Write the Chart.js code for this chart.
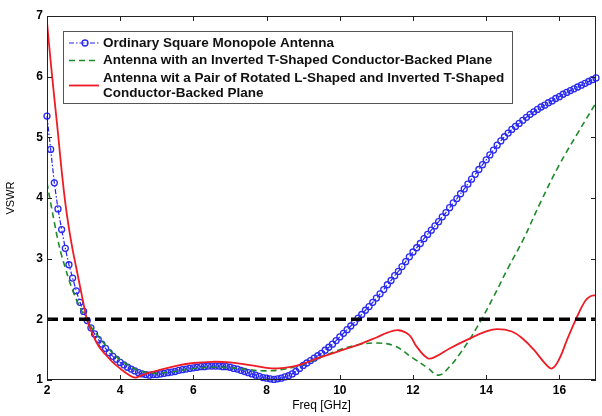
<!DOCTYPE html>
<html>
<head>
<meta charset="utf-8">
<script src="https://cdn.jsdelivr.net/npm/chart.js@4"></script>
<style>
  html, body { margin: 0; padding: 0; background: #fff; }
  #wrap { width: 602px; height: 416px; }
</style>
</head>
<body>
<div id="wrap"><canvas id="vswrChart" width="602" height="416"></canvas></div>
<script>
// Дані: частота (ГГц) та КСХН для трьох антен
const freqOrdinary = [
  2.0, 2.1, 2.2, 2.3, 2.4, 2.5, 2.6, 2.7, 2.8, 2.9,
  3.0, 3.1, 3.2, 3.3, 3.4, 3.5, 3.6, 3.7, 3.8, 3.9,
  4.0, 4.1, 4.2, 4.3, 4.4, 4.5, 4.6, 4.7, 4.8, 4.9,
  5.0, 5.1, 5.2, 5.3, 5.4, 5.5, 5.6, 5.7, 5.8, 5.9,
  6.0, 6.1, 6.2, 6.3, 6.4, 6.5, 6.6, 6.7, 6.8, 6.9,
  7.0, 7.1, 7.2, 7.3, 7.4, 7.5, 7.6, 7.7, 7.8, 7.9,
  8.0, 8.1, 8.2, 8.3, 8.4, 8.5, 8.6, 8.7, 8.8, 8.9,
  9.0, 9.1, 9.2, 9.3, 9.4, 9.5, 9.6, 9.7, 9.8, 9.9,
  10.0, 10.1, 10.2, 10.3, 10.4, 10.5, 10.6, 10.7, 10.8, 10.9,
  11.0, 11.1, 11.2, 11.3, 11.4, 11.5, 11.6, 11.7, 11.8, 11.9,
  12.0, 12.1, 12.2, 12.3, 12.4, 12.5, 12.6, 12.7, 12.8, 12.9,
  13.0, 13.1, 13.2, 13.3, 13.4, 13.5, 13.6, 13.7, 13.8, 13.9,
  14.0, 14.1, 14.2, 14.3, 14.4, 14.5, 14.6, 14.7, 14.8, 14.9,
  15.0, 15.1, 15.2, 15.3, 15.4, 15.5, 15.6, 15.7, 15.8, 15.9,
  16.0, 16.1, 16.2, 16.3, 16.4, 16.5, 16.6, 16.7, 16.8, 16.9,
  17.0
];
const vswrOrdinary = [
  5.35, 4.80, 4.25, 3.82, 3.48, 3.17, 2.90, 2.68, 2.47, 2.28,
  2.13, 1.98, 1.86, 1.76, 1.67, 1.59, 1.52, 1.45, 1.39, 1.34,
  1.29, 1.25, 1.21, 1.18, 1.15, 1.12, 1.10, 1.09, 1.08, 1.09,
  1.09, 1.10, 1.11, 1.12, 1.13, 1.14, 1.16, 1.17, 1.18, 1.19,
  1.20, 1.21, 1.22, 1.22, 1.23, 1.23, 1.23, 1.23, 1.22, 1.22,
  1.21, 1.19, 1.18, 1.16, 1.14, 1.12, 1.10, 1.08, 1.06, 1.04,
  1.03, 1.02, 1.01, 1.02, 1.03, 1.05, 1.07, 1.10, 1.14, 1.19,
  1.24, 1.28, 1.32, 1.36, 1.40, 1.44, 1.49, 1.54, 1.59, 1.65,
  1.71, 1.77, 1.83, 1.89, 1.95, 2.02, 2.08, 2.15, 2.21, 2.28,
  2.35, 2.42, 2.49, 2.57, 2.64, 2.72, 2.79, 2.87, 2.95, 3.03,
  3.11, 3.18, 3.25, 3.33, 3.40, 3.47, 3.54, 3.61, 3.69, 3.76,
  3.84, 3.92, 3.99, 4.07, 4.15, 4.23, 4.31, 4.39, 4.47, 4.55,
  4.63, 4.71, 4.79, 4.87, 4.94, 5.01, 5.07, 5.13, 5.18, 5.23,
  5.28, 5.33, 5.38, 5.42, 5.46, 5.50, 5.53, 5.57, 5.60, 5.64,
  5.67, 5.71, 5.74, 5.77, 5.80, 5.83, 5.86, 5.89, 5.92, 5.95,
  5.98
];

const freqTShaped = [2.0, 2.1, 2.2, 2.3, 2.4, 2.5, 2.6, 2.7, 2.8, 2.9, 3.0, 3.2, 3.4, 3.6, 3.8, 4.0, 4.2, 4.4, 4.6, 4.8, 5.0, 5.5, 6.0, 6.5, 7.0, 7.5, 8.0, 8.5, 9.0, 9.5, 10.0, 10.5, 11.0, 11.5, 12.0, 12.4, 12.7, 13.0, 13.3, 13.6, 13.9, 14.2, 14.6, 15.0, 15.5, 16.0, 16.5, 17.0];
const vswrTShaped = [4.25, 3.92, 3.60, 3.30, 3.05, 2.85, 2.65, 2.48, 2.33, 2.20, 2.08, 1.88, 1.72, 1.57, 1.44, 1.33, 1.25, 1.18, 1.14, 1.12, 1.11, 1.14, 1.19, 1.21, 1.20, 1.17, 1.15, 1.18, 1.26, 1.38, 1.50, 1.58, 1.61, 1.56, 1.36, 1.20, 1.08, 1.22, 1.45, 1.72, 2.03, 2.37, 2.85, 3.30, 3.95, 4.55, 5.07, 5.57];

const freqLTShaped = [2.0, 2.1, 2.2, 2.3, 2.4, 2.5, 2.6, 2.7, 2.8, 2.9, 3.0, 3.1, 3.2, 3.4, 3.6, 3.8, 4.0, 4.2, 4.4, 4.6, 4.8, 5.0, 5.5, 6.0, 6.5, 7.0, 7.5, 8.0, 8.3, 8.7, 9.0, 9.4, 10.0, 10.5, 11.0, 11.3, 11.6, 11.9, 12.1, 12.4, 12.6, 13.0, 13.5, 14.0, 14.3, 14.7, 15.0, 15.3, 15.6, 15.8, 16.0, 16.2, 16.45, 16.7, 16.85, 17.0];
const vswrLTShaped = [6.90, 6.25, 5.65, 5.07, 4.45, 3.92, 3.50, 3.15, 2.85, 2.55, 2.25, 1.98, 1.82, 1.57, 1.42, 1.29, 1.19, 1.10, 1.04, 1.08, 1.12, 1.15, 1.23, 1.28, 1.30, 1.29, 1.25, 1.20, 1.19, 1.22, 1.27, 1.36, 1.48, 1.58, 1.70, 1.78, 1.82, 1.74, 1.55, 1.36, 1.38, 1.52, 1.67, 1.80, 1.84, 1.80, 1.68, 1.50, 1.28, 1.19, 1.35, 1.65, 2.00, 2.30, 2.38, 2.40];

const thresholdFreq = [2, 17];
const thresholdVswr = [2, 2];

const xTicks = [2, 4, 6, 8, 10, 12, 14, 16];
const yTicks = [1, 2, 3, 4, 5, 6, 7];

const seriesLabels = [
  'Ordinary Square Monopole Antenna',
  'Antenna with an Inverted T-Shaped Conductor-Backed Plane',
  'Antenna wit a Pair of Rotated L-Shaped and Inverted T-Shaped\nConductor-Backed Plane'
];

function toPoints(xs, ys) {
  return xs.map((x, i) => ({ x: x, y: ys[i] }));
}

Chart.defaults.font.family = 'Arial, "Liberation Sans", Helvetica, sans-serif';
Chart.defaults.color = '#000';

// Рамка та внутрішні мітки осей (як у MATLAB)
const frameTicks = {
  id: 'frameTicks',
  afterDatasetsDraw(chart) {
    const { ctx, chartArea: a, scales } = chart;
    ctx.save();
    ctx.strokeStyle = '#222';
    ctx.lineWidth = 1;
    ctx.strokeRect(a.left + 0.5, a.top + 0.5, a.right - a.left - 1, a.bottom - a.top - 1);
    ctx.beginPath();
    xTicks.forEach(v => {
      const px = Math.round(scales.x.getPixelForValue(v)) + 0.5;
      ctx.moveTo(px, a.bottom); ctx.lineTo(px, a.bottom - 5);
      ctx.moveTo(px, a.top); ctx.lineTo(px, a.top + 5);
    });
    yTicks.forEach(v => {
      const py = Math.round(scales.y.getPixelForValue(v)) + 0.5;
      ctx.moveTo(a.left, py); ctx.lineTo(a.left + 5, py);
      ctx.moveTo(a.right, py); ctx.lineTo(a.right - 5, py);
    });
    ctx.stroke();
    ctx.restore();
  }
};

// Легенда в рамці з двома рядками для третьої серії
const boxLegend = {
  id: 'boxLegend',
  afterDraw(chart) {
    const ctx = chart.ctx;
    const x0 = 63, y0 = 31, w = 449, h = 72;
    ctx.save();
    ctx.fillStyle = '#fff';
    ctx.fillRect(x0, y0, w, h);
    ctx.strokeStyle = '#555';
    ctx.lineWidth = 1;
    ctx.strokeRect(x0 + 0.5, y0 + 0.5, w, h);
    ctx.font = 'bold 13.5px Arial, "Liberation Sans", sans-serif';
    ctx.textBaseline = 'middle';
    ctx.fillStyle = '#111';
    const rows = [43, 60.5, 78];
    chart.data.datasets.slice(1).reverse().forEach((ds, i) => {
      const lines = ds.label.split('\n');
      const cy = rows[i] + (lines.length - 1) * 7.5;
      ctx.save();
      ctx.strokeStyle = ds.borderColor;
      ctx.lineWidth = ds.borderWidth;
      ctx.setLineDash(ds.borderDash || []);
      ctx.beginPath();
      ctx.moveTo(69, cy); ctx.lineTo(99, cy);
      ctx.stroke();
      if (ds.pointRadius > 0) {
        ctx.setLineDash([]);
        ctx.lineWidth = ds.pointBorderWidth;
        ctx.strokeStyle = ds.pointBorderColor;
        ctx.beginPath();
        ctx.arc(85, cy, ds.pointRadius, 0, Math.PI * 2);
        ctx.stroke();
      }
      ctx.restore();
      lines.forEach((t, k) => ctx.fillText(t, 103, rows[i] + k * 15.5));
    });
    ctx.restore();
  }
};

const ctx = document.getElementById('vswrChart').getContext('2d');
const vswrChart = new Chart(ctx, {
  type: 'scatter',
  data: {
    datasets: [
      {
        label: 'VSWR = 2',
        data: toPoints(thresholdFreq, thresholdVswr),
        showLine: true,
        borderColor: '#000',
        borderWidth: 3.5,
        borderDash: [11, 5],
        pointRadius: 0
      },
      {
        label: seriesLabels[2],
        data: toPoints(freqLTShaped, vswrLTShaped),
        showLine: true,
        borderColor: '#ee1c25',
        borderWidth: 1.8,
        tension: 0.4,
        pointRadius: 0
      },
      {
        label: seriesLabels[1],
        data: toPoints(freqTShaped, vswrTShaped),
        showLine: true,
        borderColor: '#1f8a2a',
        borderWidth: 1.6,
        borderDash: [6, 4],
        tension: 0.4,
        pointRadius: 0
      },
      {
        label: seriesLabels[0],
        data: toPoints(freqOrdinary, vswrOrdinary),
        showLine: true,
        clip: 4,
        borderColor: '#2222ee',
        borderWidth: 1.2,
        borderDash: [5, 2, 1.5, 2],
        pointRadius: 3,
        pointBorderWidth: 1.3,
        pointBorderColor: '#2a2af0',
        pointBackgroundColor: 'rgba(255,255,255,0)'
      }
    ]
  },
  options: {
    responsive: false,
    animation: false,
    layout: { padding: { left: 0, top: 16, right: 6, bottom: 0 } },
    plugins: {
      legend: { display: false },
      tooltip: { enabled: false }
    },
    scales: {
      x: {
        type: 'linear',
        min: 2,
        max: 17,
        afterFit: s => { s.height = 36; },
        afterBuildTicks: s => { s.ticks = xTicks.map(v => ({ value: v })); },
        grid: { display: false, drawTicks: false },
        border: { display: false },
        ticks: { padding: 3, font: { size: 12, weight: 'bold' }, maxRotation: 0 },
        title: { display: true, text: 'Freq [GHz]', font: { size: 12 }, padding: { top: 0, bottom: 3 } }
      },
      y: {
        min: 1,
        max: 7,
        afterFit: s => { s.width = 47; },
        afterBuildTicks: s => { s.ticks = yTicks.map(v => ({ value: v })); },
        grid: { display: false, drawTicks: false },
        border: { display: false },
        ticks: { padding: 4, font: { size: 12, weight: 'bold' } },
        title: { display: true, text: 'VSWR', font: { size: 11 }, padding: { top: 4, bottom: 0 } }
      }
    }
  },
  plugins: [frameTicks, boxLegend]
});
</script>
</body>
</html>
